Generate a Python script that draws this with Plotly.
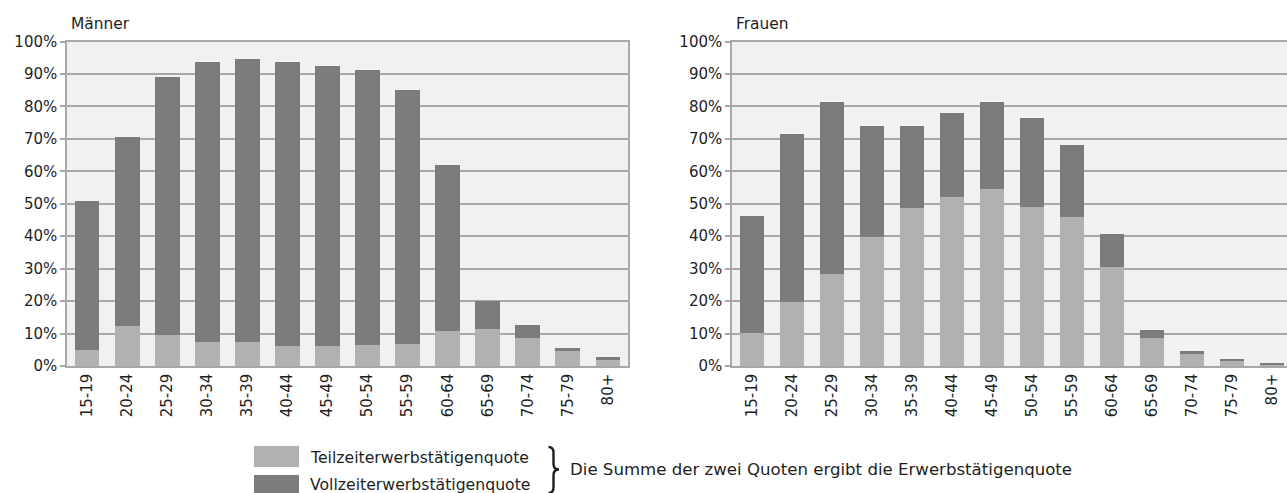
import plotly.graph_objects as go

W, H = 1287, 493

categories = ["15-19", "20-24", "25-29", "30-34", "35-39", "40-44", "45-49",
              "50-54", "55-59", "60-64", "65-69", "70-74", "75-79", "80+"]

# Männer (percent)
men_teilzeit = [5.0, 12.3, 9.5, 7.4, 7.4, 6.2, 6.2, 6.5, 6.8, 10.8, 11.4, 8.6, 4.6, 2.2]
men_vollzeit = [45.8, 58.2, 79.6, 86.3, 87.2, 87.5, 86.3, 84.7, 78.3, 51.1, 8.6, 4.0, 0.9, 0.6]

# Frauen (percent)
women_teilzeit = [10.1, 19.7, 28.3, 39.7, 48.7, 52.1, 54.5, 49.0, 45.9, 30.5, 8.5, 3.9, 1.4, 0.6]
women_vollzeit = [36.1, 51.9, 53.2, 34.4, 25.4, 26.0, 27.0, 27.3, 22.3, 10.1, 2.5, 0.6, 0.7, 0.3]

y_ticks = [0, 10, 20, 30, 40, 50, 60, 70, 80, 90, 100]
y_tick_labels = ["0%", "10%", "20%", "30%", "40%", "50%", "60%", "70%", "80%", "90%", "100%"]

LIGHT = "#b0b1b2"
DARK = "#7b7c7e"
GRID = "#a8a8a8"
TEXT = "#1e1e1e"
FONT = "DejaVu Sans"


def px(x):
    return x / W


def py(y):
    return 1 - y / H


fig = go.Figure()

fig.add_trace(go.Bar(x=categories, y=men_teilzeit, marker=dict(color=LIGHT, line=dict(width=0)),
                     name="Teilzeiterwerbstätigenquote", xaxis="x", yaxis="y", showlegend=False))
fig.add_trace(go.Bar(x=categories, y=men_vollzeit, marker=dict(color=DARK, line=dict(width=0)),
                     name="Vollzeiterwerbstätigenquote", xaxis="x", yaxis="y", showlegend=False))
fig.add_trace(go.Bar(x=categories, y=women_teilzeit, marker=dict(color=LIGHT, line=dict(width=0)),
                     name="Teilzeiterwerbstätigenquote", xaxis="x2", yaxis="y2", showlegend=False))
fig.add_trace(go.Bar(x=categories, y=women_vollzeit, marker=dict(color=DARK, line=dict(width=0)),
                     name="Vollzeiterwerbstätigenquote", xaxis="x2", yaxis="y2", showlegend=False))

ydom = [py(366), py(41.5)]

xcommon = dict(type="category", tickangle=-90, showgrid=False, showline=True, mirror=True,
               linecolor=GRID, linewidth=1.5, ticks="", automargin=False,
               tickfont=dict(family=FONT, size=15, color=TEXT), fixedrange=True)
ycommon = dict(range=[0, 100], tickmode="array", tickvals=y_ticks, ticktext=y_tick_labels,
               showgrid=True, gridcolor=GRID, gridwidth=1.5, showline=True, mirror=True,
               linecolor=GRID, linewidth=1.5, automargin=False,
               ticks="outside", ticklen=5, tickcolor=GRID, tickwidth=1.5,
               tickfont=dict(family=FONT, size=15, color=TEXT), zeroline=False, fixedrange=True)

fig.update_layout(
    template="none",
    width=W, height=H,
    margin=dict(l=0, r=0, t=0, b=0, pad=0),
    paper_bgcolor="white",
    plot_bgcolor="#f0f1f0",
    barmode="stack",
    bargap=0.38,
    showlegend=False,
    font=dict(family=FONT, size=15, color=TEXT),
    xaxis=dict(domain=[px(67), px(628)], range=[-0.5, 13.5], anchor="y", **xcommon),
    yaxis=dict(domain=ydom, anchor="x", **ycommon),
    xaxis2=dict(domain=[px(732), 1.0], range=[-0.5, 13.375], anchor="y2", **xcommon),
    yaxis2=dict(domain=ydom, anchor="x2", **ycommon),
)

annotations = [
    dict(text="Männer", x=px(69), y=py(24), size=15.4),
    dict(text="Frauen", x=px(734), y=py(24), size=15.4),
    dict(text="Teilzeiterwerbstätigenquote", x=px(308), y=py(457), size=15.7),
    dict(text="Vollzeiterwerbstätigenquote", x=px(308), y=py(484), size=15.7),
    dict(text="Die Summe der zwei Quoten ergibt die Erwerbstätigenquote", x=px(568), y=py(469),
         size=16.6),
]
for a in annotations:
    size = a.pop("size")
    fig.add_annotation(xref="paper", yref="paper", showarrow=False, xanchor="left", yanchor="middle",
                       font=dict(family=FONT, size=size, color=TEXT), **a)

# legend swatches
fig.add_shape(type="rect", xref="paper", yref="paper", x0=px(254), x1=px(299), y0=py(467), y1=py(446),
              fillcolor=LIGHT, line=dict(width=0))
fig.add_shape(type="rect", xref="paper", yref="paper", x0=px(254), x1=px(299), y0=py(494), y1=py(475),
              fillcolor=DARK, line=dict(width=0))

# curly brace
brace_pts = [("M", 548.5, 447), ("Q", 553.5, 447), ("", 553.5, 452.5), ("L", 553.5, 464),
             ("Q", 553.5, 469.5), ("", 559, 469.5), ("Q", 553.5, 469.5), ("", 553.5, 475),
             ("L", 553.5, 487.5), ("Q", 553.5, 493), ("", 548.5, 493)]
path = " ".join(f"{c} {px(x):.6f},{py(y):.6f}".strip() for c, x, y in brace_pts)
fig.add_shape(type="path", xref="paper", yref="paper", path=path,
              line=dict(color=TEXT, width=2.4))

fig.write_html("out.html", include_plotlyjs=True,
               config={"displayModeBar": False},
               post_script="document.body.style.margin='0';document.body.style.overflow='hidden';")
